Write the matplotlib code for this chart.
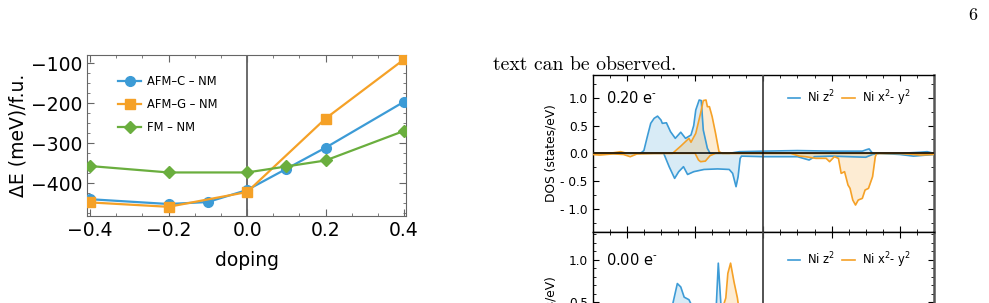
import matplotlib
matplotlib.use("Agg")
import matplotlib.pyplot as plt
from matplotlib.ticker import MultipleLocator, AutoMinorLocator, FixedLocator, FixedFormatter

# ---- left panel: energy differences vs doping ----
dop_afmc = [-0.4, -0.2, -0.1, 0.0, 0.1, 0.2, 0.4]
de_afmc = [-440, -452, -447, -417, -364, -311, -196]
dop_afmg = [-0.4, -0.2, 0.0, 0.2, 0.4]
de_afmg = [-448, -459, -422, -238, -90]
dop_fm = [-0.4, -0.2, 0.0, 0.1, 0.2, 0.4]
de_fm = [-357, -373, -373, -358, -343, -269]
labels_de = ["AFM\u2013C \u2013 NM", "AFM\u2013G \u2013 NM", "FM \u2013 NM"]

# ---- right panel: Ni d DOS, 0.20 e- doping ----
e_z2_up = [-2.5, -1.8, -1.75, -1.7, -1.65, -1.6, -1.55, -1.5, -1.48, -1.42, -1.36, -1.29,
           -1.21, -1.14, -1.06, -1.02, -0.99, -0.94, -0.91, -0.88, -0.82, -0.78, -0.5,
           -0.35, 0.0, 0.5, 1.0, 1.45, 1.52, 1.55, 1.6, 2.0, 2.3, 2.4, 2.5]
d_z2_up = [0.0, 0.0, 0.05, 0.3, 0.54, 0.63, 0.67, 0.6, 0.54, 0.55, 0.39, 0.27,
           0.38, 0.27, 0.33, 0.5, 0.78, 0.96, 0.95, 0.42, 0.09, 0.0, 0.0,
           0.03, 0.04, 0.05, 0.04, 0.04, 0.07, 0.08, 0.0, 0.0, 0.02, 0.03, 0.0]
e_z2_dn = [-2.5, -1.46, -1.38, -1.30, -1.24, -1.17, -1.11, -1.02, -0.87, -0.67, -0.5,
           -0.45, -0.40, -0.37, -0.34, -0.32, 0.0, 0.5, 0.67, 0.75, 1.0, 1.5, 1.6,
           1.7, 2.0, 2.2, 2.5]
d_z2_dn = [0.0, 0.0, -0.24, -0.45, -0.33, -0.24, -0.38, -0.33, -0.29, -0.28, -0.29,
           -0.36, -0.60, -0.42, -0.09, -0.05, -0.06, -0.06, -0.12, -0.06, -0.05, -0.07, -0.02,
           0.0, -0.02, -0.05, -0.02]
e_x2_up = [-2.5, -2.2, -2.09, -2.0, -1.6, -1.33, -1.21, -1.09, -1.06, -0.99, -0.92,
           -0.88, -0.84, -0.82, -0.79, -0.75, -0.70, -0.65, -0.6, 2.5]
d_x2_up = [0.0, 0.01, 0.03, 0.0, 0.0, 0.0, 0.13, 0.27, 0.20, 0.36, 0.72,
           0.95, 0.96, 0.84, 0.84, 0.66, 0.36, 0.03, 0.0, 0.0]
e_x2_dn = [-2.5, -2.4, -2.2, -2.05, -1.95, -1.85, -1.6, -1.0, -0.95, -0.92, -0.85,
           -0.78, -0.7, 0.4, 0.53, 0.62, 0.77, 0.92, 0.97, 1.04, 1.10, 1.14, 1.19,
           1.24, 1.27, 1.31, 1.35, 1.39, 1.45, 1.49, 1.54, 1.60, 1.64, 1.66, 2.0, 2.3, 2.5]
d_x2_dn = [-0.02, -0.03, -0.01, -0.02, -0.06, -0.01, 0.0, 0.0, -0.12, -0.15, -0.14,
           -0.04, 0.0, 0.0, -0.05, -0.06, -0.09, -0.09, -0.15, -0.06, -0.09, -0.36, -0.33,
           -0.57, -0.63, -0.84, -0.93, -0.84, -0.81, -0.66, -0.63, -0.42, -0.06, 0.0, 0.0, -0.03, -0.02]

# ---- right panel, undoped (only upper part visible) ----
e0_z2_up = [-2.5, -1.5, -1.4, -1.33, -1.26, -1.21, -1.16, -1.09, -1.0, -0.9, -0.8,
            -0.72, -0.69, -0.66, -0.62, -0.58, -0.5, 2.5]
d0_z2_up = [0.0, 0.0, 0.25, 0.47, 0.72, 0.68, 0.56, 0.53, 0.38, 0.32, 0.3,
            0.32, 0.45, 0.96, 0.45, 0.1, 0.0, 0.0]
e0_x2_up = [-2.5, -1.0, -0.8, -0.65, -0.55, -0.52, -0.48, -0.43, -0.38, -0.32, -0.25, 2.5]
d0_x2_up = [0.0, 0.0, 0.1, 0.3, 0.55, 0.84, 0.96, 0.74, 0.55, 0.2, 0.0, 0.0]

BLUE = "#3c9bd6"
ORANGE = "#f5a127"
GREEN = "#6aae3e"
FRAME = "#666666"

W, H = 989, 303
fig = plt.figure(figsize=(W / 100, H / 100), dpi=100)


def px_axes(left, top, right, bottom):
    return fig.add_axes([left / W, 1 - bottom / H, (right - left) / W, (bottom - top) / H])


# left chart
ax = px_axes(87, 55, 406, 216)
ax.axvline(0, color="#444444", lw=1.1, zorder=1)
ax.plot(dop_afmc, de_afmc, "-o", color=BLUE, lw=1.6, ms=7, label=labels_de[0], zorder=3)
ax.plot(dop_afmg, de_afmg, "-s", color=ORANGE, lw=1.6, ms=7, label=labels_de[1], zorder=3)
ax.plot(dop_fm, de_fm, "-D", color=GREEN, lw=1.6, ms=6.3, label=labels_de[2], zorder=3)
ax.set_xlim(-0.408, 0.405)
ax.set_ylim(-482, -79)
ax.xaxis.set_major_locator(MultipleLocator(0.2))
ax.xaxis.set_minor_locator(AutoMinorLocator(3))
ax.yaxis.set_major_locator(MultipleLocator(100))
ax.yaxis.set_minor_locator(AutoMinorLocator(4))
ax.tick_params(which="both", direction="in", top=True, right=True, color=FRAME,
               labelsize=13.5)
ax.tick_params(which="major", length=5)
ax.tick_params(which="minor", length=2.5)
ax.xaxis.set_major_formatter(matplotlib.ticker.FuncFormatter(
    lambda v, p: f"{v:.1f}".replace("-", "\u2212")))
for s in ax.spines.values():
    s.set_color(FRAME)
ax.set_xlabel("doping", fontsize=13.5, labelpad=8)
ax.set_ylabel("\u0394E (meV)/f.u.", fontsize=13.5, labelpad=2)
ax.legend(loc="upper left", bbox_to_anchor=(0.065, 0.94), frameon=False, fontsize=8.3,
          handlelength=2.0, labelspacing=0.85, handletextpad=0.5)


def dos_axes(top, bottom, ylo, yhi):
    a = px_axes(592.7, top, 934, bottom)
    a.set_xlim(-2.5, 2.5)
    a.set_ylim(ylo, yhi)
    a.axvline(0, color="#444444", lw=1.3, zorder=4)
    a.axhline(0, color="black", lw=1.1, zorder=4)
    a.xaxis.set_major_locator(MultipleLocator(1))
    a.xaxis.set_minor_locator(MultipleLocator(0.25))
    a.tick_params(which="both", direction="in", top=True, right=True, labelbottom=False,
                  labelsize=8.7)
    a.tick_params(which="major", length=4)
    a.tick_params(which="minor", length=2)
    for s in a.spines.values():
        s.set_linewidth(1.0)
    a.spines["right"].set_color("#555555")
    a.spines["right"].set_linewidth(1.8)
    a.yaxis.set_major_locator(FixedLocator([-1.0, -0.5, 0.0, 0.5, 1.0]))
    a.yaxis.set_major_formatter(FixedFormatter(["- 1.0", "- 0.5", "0.0", "0.5", "1.0"]))
    a.set_ylabel("DOS (states/eV)", fontsize=8.8, labelpad=2)
    return a


def dos_curve(a, e, d, color):
    a.fill_between(e, d, 0, color=color, alpha=0.2, lw=0, zorder=2)
    a.plot(e, d, color=color, lw=1.2, zorder=3)


ax1 = dos_axes(75, 231.7, -1.41, 1.41)
ax1.yaxis.set_minor_locator(MultipleLocator(0.25))
dos_curve(ax1, e_z2_up, d_z2_up, BLUE)
dos_curve(ax1, e_z2_dn, d_z2_dn, BLUE)
dos_curve(ax1, e_x2_up, d_x2_up, ORANGE)
dos_curve(ax1, e_x2_dn, d_x2_dn, ORANGE)
ax1.text(-2.3, 1.0, "0.20 e$^{\\text{-}}$", fontsize=10.5, va="center", ha="left")

ax2 = dos_axes(231.7, 418.7, -0.87, 1.33)
ax2.yaxis.set_minor_locator(MultipleLocator(0.1))
dos_curve(ax2, e0_z2_up, d0_z2_up, BLUE)
dos_curve(ax2, e0_x2_up, d0_x2_up, ORANGE)
ax2.text(-2.3, 1.0, "0.00 e$^{\\text{-}}$", fontsize=10.5, va="center", ha="left")

for a, yfrac in ((ax1, (1.0 + 1.41) / 2.82), (ax2, (1.0 + 0.87) / 2.2)):
    h1, = a.plot([], [], color=BLUE, lw=1.2)
    h2, = a.plot([], [], color=ORANGE, lw=1.2)
    a.legend([h1, h2], ["Ni z$^2$", "Ni x$^2$- y$^2$"], loc="center right",
             bbox_to_anchor=(0.962, yfrac), ncol=2, frameon=False, fontsize=8.3,
             handlelength=1.1, handletextpad=0.6, columnspacing=0.6)

# page text around the figures
fig.text(493 / W, 1 - 70.5 / H, "text can be observed.", family="cmr10",
         fontsize=14.2, va="baseline", ha="left")
fig.text(973 / W, 1 - 15 / H, "6", family="cmr10", fontsize=13, va="center", ha="center")

fig.savefig("out.png", dpi=100)
